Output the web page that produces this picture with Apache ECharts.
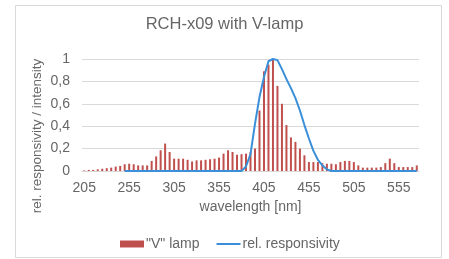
<!DOCTYPE html>
<html>
<head>
<meta charset="utf-8">
<script src="https://cdn.jsdelivr.net/npm/echarts@6/dist/echarts.min.js"></script>
<style>
  html, body { margin: 0; padding: 0; background: #fff; }
  #chart { width: 449px; height: 259px; }
</style>
</head>
<body>
<div id="chart"></div>
<script>
// wavelength categories [nm]
const wavelengths = [
  205, 210, 215, 220, 225, 230, 235, 240, 245, 250,
  255, 260, 265, 270, 275, 280, 285, 290, 295, 300,
  305, 310, 315, 320, 325, 330, 335, 340, 345, 350,
  355, 360, 365, 370, 375, 380, 385, 390, 395, 400,
  405, 410, 415, 420, 425, 430, 435, 440, 445, 450,
  455, 460, 465, 470, 475, 480, 485, 490, 495, 500,
  505, 510, 515, 520, 525, 530, 535, 540, 545, 550,
  555, 560, 565, 570, 575
];

// "V" lamp relative intensity
const lampIntensity = [
  0.005, 0.01, 0.01, 0.015, 0.02, 0.025, 0.03, 0.04, 0.045, 0.06,
  0.065, 0.06, 0.05, 0.05, 0.05, 0.09, 0.13, 0.185, 0.245, 0.17,
  0.11, 0.11, 0.11, 0.1, 0.085, 0.095, 0.095, 0.1, 0.105, 0.11,
  0.12, 0.155, 0.185, 0.17, 0.145, 0.15, 0.155, 0.17, 0.2, 0.54,
  0.89, 0.95, 1.0, 0.76, 0.6, 0.41, 0.3, 0.26, 0.2, 0.14,
  0.08, 0.08, 0.08, 0.07, 0.065, 0.065, 0.06, 0.08, 0.09, 0.09,
  0.08, 0.05, 0.03, 0.03, 0.03, 0.03, 0.035, 0.07, 0.11, 0.07,
  0.035, 0.035, 0.035, 0.035, 0.05
];

// sensor relative responsivity (no data below 250 nm)
const responsivity = [
  null, null, null, null, null, null, null, null, null, 0,
  0, 0, 0, 0, 0, 0, 0, 0, 0, 0,
  0, 0, 0, 0, 0, 0, 0, 0, 0, 0,
  0, 0, 0, 0, 0, 0, 0.04, 0.15, 0.42, 0.66,
  0.84, 0.98, 1.0, 0.99, 0.91, 0.82, 0.74, 0.65, 0.54, 0.41,
  0.29, 0.18, 0.1, 0.05, 0.015, 0, 0, 0, 0, 0,
  0, 0, 0, 0, 0, 0, 0, 0, 0, 0,
  0, 0, 0, 0, 0
];

const yTicks = [0, 0.2, 0.4, 0.6, 0.8, 1];

const font = "'Liberation Sans', Arial, sans-serif";
const textColor = "#666666";

const chart = echarts.init(document.getElementById("chart"));
const option = {
  animation: false,
  textStyle: { fontFamily: font },
  title: {
    text: "RCH-x09 with V-lamp",
    left: "center",
    top: 11,
    textStyle: { fontSize: 16.5, fontWeight: "normal", color: textColor, fontFamily: font }
  },
  graphic: [
    {
      type: "rect",
      shape: { x: 15.5, y: 5.5, width: 426, height: 252 },
      style: { fill: "none", stroke: "#d9d9d9", lineWidth: 1 },
      silent: true
    },
    {
      type: "text",
      x: 37,
      y: 136,
      rotation: Math.PI / 2,
      style: {
        text: "rel. responsivity / intensity",
        font: "13.5px " + font,
        fill: textColor,
        align: "center",
        verticalAlign: "middle"
      }
    }
  ],
  legend: {
    bottom: 3,
    left: 115,
    itemWidth: 24,
    itemHeight: 7,
    itemGap: 16,
    textStyle: { fontSize: 14, color: textColor, fontFamily: font, padding: [0, 0, 0, -3] },
    data: [
      { name: '"V" lamp', icon: "rect" },
      { name: "rel. responsivity", itemStyle: { opacity: 0 } }
    ]
  },
  grid: { left: 82, right: 30, top: 59, bottom: 88 },
  xAxis: {
    type: "category",
    data: wavelengths,
    name: "wavelength [nm]",
    nameLocation: "middle",
    nameGap: 29,
    nameTextStyle: { fontSize: 14, color: textColor },
    axisLine: { lineStyle: { color: "#d9d9d9" } },
    axisTick: { show: false },
    axisLabel: { interval: 9, color: textColor, fontSize: 14, margin: 10 }
  },
  yAxis: {
    type: "value",
    min: 0,
    max: 1,
    interval: 0.2,
    axisLine: { show: false },
    axisTick: { show: false },
    splitLine: { lineStyle: { color: "#d9d9d9" } },
    axisLabel: {
      color: textColor,
      fontSize: 14,
      margin: 12,
      formatter: function (v) {
        const t = yTicks.find(function (x) { return Math.abs(x - v) < 1e-9; });
        return String(t === undefined ? v : t).replace(".", ",");
      }
    }
  },
  series: [
    {
      name: '"V" lamp',
      type: "bar",
      data: lampIntensity,
      barWidth: 2,
      itemStyle: { color: "#C0504D" }
    },
    {
      name: "rel. responsivity",
      type: "line",
      data: responsivity,
      symbol: "none",
      lineStyle: { color: "#3A8FD9", width: 2 },
      itemStyle: { color: "#3A8FD9" }
    }
  ]
};
chart.setOption(option);
</script>
</body>
</html>
